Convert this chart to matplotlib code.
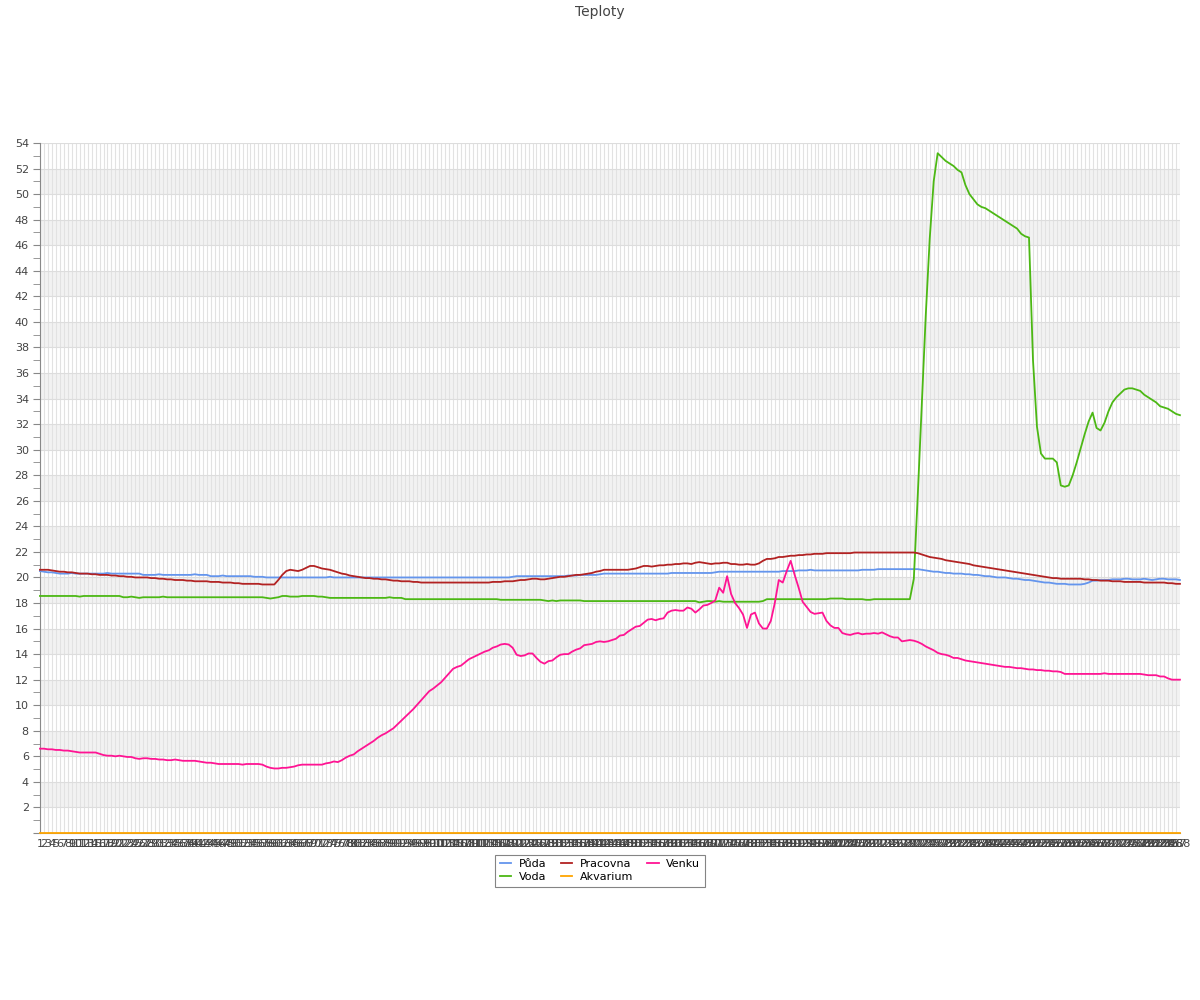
import matplotlib
matplotlib.use('Agg')
import matplotlib.pyplot as plt
from matplotlib.ticker import MultipleLocator, FuncFormatter

# hodnoty, jeden bod na zaznam (1..288)
puda = [20.5, 20.45, 20.4, 20.4, 20.35,
	20.3, 20.3, 20.3, 20.35, 20.3, 20.3, 20.3, 20.3, 20.3, 20.3, 20.3, 20.3, 20.35, 20.3, 20.3, 20.3, 20.3, 20.3, 20.3, 20.3, 20.3,
	20.2, 20.2, 20.2, 20.2, 20.25, 20.2, 20.2, 20.2, 20.2, 20.2, 20.2, 20.2, 20.2, 20.25, 20.2, 20.2, 20.2,
	20.1, 20.1, 20.1, 20.15, 20.1, 20.1, 20.1, 20.1, 20.1, 20.1, 20.1, 20.05, 20.05, 20.05,
	20.0, 20.0, 20.0, 20.0, 20.0, 20.0, 20.0, 20.0, 20.0, 20.0, 20.0, 20.0, 20.0, 20.0, 20.0, 20.0, 20.05, 20.0, 20.0, 20.0,
	20.0, 20.0, 20.0, 20.0, 20.0, 20.0, 20.0, 20.0, 20.0, 20.0, 20.0, 20.0, 20.0, 20.0, 20.0, 20.0, 20.0, 20.0, 20.0, 20.0,
	20.0, 20.0, 20.0, 20.0, 20.0, 20.0, 20.0, 20.0, 20.0, 20.0, 20.0, 20.0, 20.0, 20.0, 20.0, 20.0, 20.0, 20.0, 20.0, 20.0,
	20.0, 20.0,
	20.05, 20.1, 20.1, 20.1, 20.1, 20.1, 20.1, 20.1, 20.1, 20.1, 20.1, 20.1, 20.1, 20.1, 20.15, 20.15, 20.15,
	20.2, 20.2, 20.2, 20.2, 20.2, 20.25,
	20.3, 20.3, 20.3, 20.3, 20.3, 20.3, 20.3, 20.3, 20.3, 20.3, 20.3, 20.3, 20.3, 20.3, 20.3, 20.3, 20.3,
	20.35, 20.35, 20.35, 20.35, 20.35, 20.35, 20.35, 20.35, 20.35, 20.35, 20.35, 20.4,
	20.45, 20.45, 20.45, 20.45, 20.45, 20.45, 20.45, 20.45, 20.45, 20.45, 20.45, 20.45, 20.45, 20.45, 20.45, 20.45, 20.5, 20.5, 20.5, 20.5,
	20.55, 20.55, 20.55, 20.6, 20.55, 20.55, 20.55, 20.55, 20.55, 20.55, 20.55, 20.55, 20.55, 20.55, 20.55, 20.55, 20.6, 20.6, 20.6, 20.6,
	20.65, 20.65, 20.65, 20.65, 20.65, 20.65, 20.65, 20.65, 20.65, 20.65, 20.65,
	20.6, 20.55, 20.5, 20.45, 20.45, 20.4, 20.35, 20.35, 20.3, 20.3, 20.3, 20.25, 20.25, 20.2, 20.2, 20.15, 20.1, 20.1, 20.05, 20.0,
	20.0, 20.0, 19.95, 19.9, 19.9, 19.85, 19.8, 19.8, 19.75, 19.7, 19.65, 19.6, 19.6, 19.55, 19.5, 19.5, 19.5, 19.45, 19.45, 19.45,
	19.45, 19.5, 19.6, 19.75, 19.75, 19.8, 19.8, 19.8, 19.85, 19.85, 19.85, 19.9, 19.9, 19.85, 19.85, 19.85, 19.9, 19.85, 19.8, 19.85,
	19.9, 19.9, 19.85, 19.85, 19.85, 19.8]

voda = [18.55, 18.55, 18.55, 18.55, 18.55, 18.55, 18.55, 18.55, 18.55, 18.55, 18.5, 18.55, 18.55, 18.55, 18.55, 18.55, 18.55, 18.55, 18.55, 18.55, 18.55,
	18.45, 18.45, 18.5, 18.45, 18.4, 18.45, 18.45, 18.45, 18.45, 18.45, 18.5, 18.45, 18.45, 18.45, 18.45, 18.45, 18.45, 18.45, 18.45,
	18.45, 18.45, 18.45, 18.45, 18.45, 18.45, 18.45, 18.45, 18.45, 18.45, 18.45, 18.45, 18.45, 18.45, 18.45, 18.45, 18.45, 18.4,
	18.35, 18.4, 18.45, 18.55, 18.55, 18.5, 18.5, 18.5, 18.55, 18.55, 18.55, 18.55, 18.5, 18.5, 18.45,
	18.4, 18.4, 18.4, 18.4, 18.4, 18.4, 18.4, 18.4, 18.4, 18.4, 18.4, 18.4, 18.4, 18.4, 18.4, 18.45, 18.4, 18.4, 18.4,
	18.3, 18.3, 18.3, 18.3, 18.3, 18.3, 18.3, 18.3, 18.3, 18.3, 18.3, 18.3, 18.3, 18.3, 18.3, 18.3, 18.3, 18.3, 18.3, 18.3, 18.3, 18.3, 18.3, 18.3,
	18.25, 18.25, 18.25, 18.25, 18.25, 18.25, 18.25, 18.25, 18.25, 18.25, 18.25, 18.2, 18.15, 18.2, 18.15, 18.2, 18.2, 18.2, 18.2, 18.2, 18.2,
	18.15, 18.15, 18.15, 18.15, 18.15, 18.15, 18.15, 18.15, 18.15, 18.15, 18.15, 18.15, 18.15, 18.15, 18.15, 18.15, 18.15, 18.15, 18.15, 18.15,
	18.15, 18.15, 18.15, 18.15, 18.15, 18.15, 18.15, 18.15, 18.15,
	18.05, 18.1, 18.15, 18.15, 18.1, 18.15, 18.1, 18.1, 18.1, 18.1, 18.1, 18.1, 18.1, 18.1, 18.1, 18.1, 18.15,
	18.3, 18.3, 18.3, 18.3, 18.3, 18.3, 18.3, 18.3, 18.3, 18.3, 18.3, 18.3, 18.3, 18.3, 18.3, 18.3, 18.35, 18.35, 18.35, 18.35,
	18.3, 18.3, 18.3, 18.3, 18.3, 18.25, 18.25, 18.3, 18.3, 18.3, 18.3, 18.3, 18.3, 18.3, 18.3, 18.3, 18.3,
	19.9, 26.5, 33.5, 40.5, 46.5, 51.0, 53.2, 52.9, 52.6, 52.4, 52.2, 51.9, 51.7, 50.7, 50.0, 49.6, 49.2, 49.0, 48.9, 48.7,
	48.5, 48.3, 48.1, 47.9, 47.7, 47.5, 47.3, 46.9, 46.7, 46.6, 37.0, 31.8, 29.7, 29.3, 29.3, 29.3, 29.0, 27.2, 27.1, 27.2,
	28.0, 29.0, 30.1, 31.2, 32.2, 32.9, 31.7, 31.5, 32.1, 33.0, 33.7, 34.1, 34.4, 34.7, 34.8, 34.8, 34.7, 34.6, 34.3, 34.1,
	33.9, 33.7, 33.4, 33.3, 33.2, 33.0, 32.8, 32.7]

pracovna = [20.6, 20.6, 20.6, 20.55, 20.5, 20.45, 20.45, 20.4, 20.4, 20.35, 20.3, 20.3, 20.3, 20.25, 20.25, 20.2, 20.2, 20.2, 20.15, 20.15,
	20.1, 20.1, 20.05, 20.05, 20.0, 20.0, 20.0, 20.0, 19.95, 19.95, 19.9, 19.9, 19.85, 19.85, 19.8, 19.8, 19.8, 19.75, 19.75, 19.7,
	19.7, 19.7, 19.7, 19.65, 19.65, 19.65, 19.6, 19.6, 19.6, 19.55, 19.55, 19.5, 19.5, 19.5, 19.5, 19.5, 19.45, 19.45, 19.45,
	19.45, 19.8, 20.2, 20.5, 20.6, 20.55, 20.5, 20.6, 20.75, 20.9, 20.9, 20.8, 20.7, 20.65, 20.6, 20.5, 20.4, 20.3, 20.25, 20.15,
	20.1, 20.05, 20.0,
	19.95, 19.95, 19.9, 19.9, 19.85, 19.85, 19.8, 19.75,
	19.75, 19.7, 19.7, 19.7, 19.65, 19.65, 19.6, 19.6,
	19.6, 19.6, 19.6, 19.6, 19.6, 19.6, 19.6, 19.6, 19.6, 19.6, 19.6, 19.6, 19.6,
	19.6, 19.6, 19.6, 19.65, 19.65, 19.65, 19.7, 19.7,
	19.7, 19.75, 19.8, 19.8, 19.85, 19.9, 19.9, 19.85, 19.85, 19.9, 19.95, 20.0, 20.05,
	20.05, 20.1, 20.15, 20.2, 20.2, 20.25, 20.3, 20.35, 20.45, 20.5, 20.6,
	20.6, 20.6, 20.6, 20.6, 20.6, 20.6, 20.65,
	20.7, 20.8, 20.9, 20.9, 20.85, 20.9, 20.95, 20.95, 21.0,
	21.0, 21.05, 21.05, 21.1, 21.1, 21.05, 21.15, 21.2,
	21.15, 21.1, 21.05, 21.1, 21.1, 21.15, 21.15, 21.05, 21.05, 21.0, 21.0, 21.05, 21.0, 21.0,
	21.1, 21.3, 21.45, 21.45, 21.5, 21.6, 21.6, 21.65, 21.7, 21.7, 21.75, 21.75, 21.8, 21.8, 21.85, 21.85, 21.85, 21.9, 21.9,
	21.9, 21.9, 21.9, 21.9, 21.9, 21.95, 21.95, 21.95, 21.95, 21.95, 21.95, 21.95, 21.95, 21.95, 21.95, 21.95, 21.95, 21.95, 21.95, 21.95, 21.95,
	21.9, 21.8, 21.7, 21.6, 21.55, 21.5, 21.45, 21.35, 21.3, 21.25, 21.2, 21.15, 21.1, 21.05, 20.95, 20.9, 20.85, 20.8, 20.75, 20.7,
	20.65, 20.6, 20.55, 20.5, 20.45, 20.4, 20.35, 20.3, 20.25, 20.2, 20.15, 20.1, 20.05, 20.0, 19.95, 19.95, 19.9, 19.9, 19.9, 19.9,
	19.9, 19.9, 19.85, 19.85, 19.8, 19.8, 19.75, 19.75, 19.75, 19.7, 19.7, 19.7, 19.65, 19.65, 19.65, 19.65, 19.65, 19.6, 19.6, 19.6,
	19.6, 19.6, 19.6, 19.55, 19.55, 19.5, 19.5]

akvarium = [0, 0, 0, 0, 0, 0, 0, 0, 0, 0, 0, 0, 0, 0, 0, 0, 0, 0, 0, 0, 0, 0, 0, 0,
	0, 0, 0, 0, 0, 0, 0, 0, 0, 0, 0, 0, 0, 0, 0, 0, 0, 0, 0, 0, 0, 0, 0, 0,
	0, 0, 0, 0, 0, 0, 0, 0, 0, 0, 0, 0, 0, 0, 0, 0, 0, 0, 0, 0, 0, 0, 0, 0,
	0, 0, 0, 0, 0, 0, 0, 0, 0, 0, 0, 0, 0, 0, 0, 0, 0, 0, 0, 0, 0, 0, 0, 0,
	0, 0, 0, 0, 0, 0, 0, 0, 0, 0, 0, 0, 0, 0, 0, 0, 0, 0, 0, 0, 0, 0, 0, 0,
	0, 0, 0, 0, 0, 0, 0, 0, 0, 0, 0, 0, 0, 0, 0, 0, 0, 0, 0, 0, 0, 0, 0, 0,
	0, 0, 0, 0, 0, 0, 0, 0, 0, 0, 0, 0, 0, 0, 0, 0, 0, 0, 0, 0, 0, 0, 0, 0,
	0, 0, 0, 0, 0, 0, 0, 0, 0, 0, 0, 0, 0, 0, 0, 0, 0, 0, 0, 0, 0, 0, 0, 0,
	0, 0, 0, 0, 0, 0, 0, 0, 0, 0, 0, 0, 0, 0, 0, 0, 0, 0, 0, 0, 0, 0, 0, 0,
	0, 0, 0, 0, 0, 0, 0, 0, 0, 0, 0, 0, 0, 0, 0, 0, 0, 0, 0, 0, 0, 0, 0, 0,
	0, 0, 0, 0, 0, 0, 0, 0, 0, 0, 0, 0, 0, 0, 0, 0, 0, 0, 0, 0, 0, 0, 0, 0,
	0, 0, 0, 0, 0, 0, 0, 0, 0, 0, 0, 0, 0, 0, 0, 0, 0, 0, 0, 0, 0, 0, 0, 0]

venku = [6.6, 6.6, 6.55, 6.55, 6.5, 6.5, 6.45, 6.45, 6.4, 6.35, 6.3, 6.3, 6.3, 6.3, 6.3, 6.2, 6.1, 6.05, 6.05, 6.0,
	6.05, 6.0, 5.95, 5.95, 5.85, 5.8, 5.85, 5.85, 5.8, 5.8, 5.75, 5.75, 5.7, 5.7, 5.75, 5.7, 5.65, 5.65, 5.65, 5.65,
	5.6, 5.55, 5.5, 5.5, 5.45, 5.4, 5.4, 5.4, 5.4, 5.4, 5.4, 5.35, 5.4, 5.4, 5.4, 5.4, 5.35, 5.2, 5.1, 5.05,
	5.05, 5.1, 5.1, 5.15, 5.2, 5.3, 5.35, 5.35, 5.35, 5.35, 5.35, 5.35, 5.45, 5.5, 5.6, 5.55, 5.7, 5.9, 6.05, 6.15,
	6.4, 6.6, 6.8, 7.0, 7.2, 7.45, 7.65, 7.8, 8.0, 8.2, 8.5, 8.8, 9.1, 9.4, 9.7, 10.05, 10.4, 10.75, 11.1, 11.3,
	11.55, 11.8, 12.15, 12.5, 12.85, 13.0, 13.1, 13.35, 13.6, 13.75, 13.9, 14.05, 14.2, 14.3, 14.5, 14.6, 14.75, 14.8, 14.75, 14.5,
	13.95, 13.85, 13.9, 14.05, 14.05, 13.7, 13.4, 13.25, 13.45, 13.5, 13.75, 13.95, 14.0, 14.0, 14.2, 14.35, 14.45, 14.7, 14.75, 14.8,
	14.95, 15.0, 14.95, 15.0, 15.1, 15.2, 15.45, 15.5, 15.75, 15.95, 16.15, 16.2, 16.45, 16.7, 16.75, 16.65, 16.75, 16.8, 17.25, 17.4,
	17.45, 17.4, 17.4, 17.65, 17.55, 17.25, 17.5, 17.8, 17.85, 18.0, 18.2, 19.2, 18.8, 20.1, 18.7, 18.0, 17.6, 17.1, 16.05, 17.1,
	17.25, 16.4, 16.0, 16.0, 16.6, 18.0, 19.8, 19.6, 20.5, 21.3, 20.2, 19.2, 18.1, 17.7, 17.3, 17.15, 17.2, 17.25, 16.6, 16.25,
	16.05, 16.05, 15.65, 15.55, 15.5, 15.6, 15.65, 15.55, 15.6, 15.6, 15.65, 15.6, 15.7, 15.55, 15.4, 15.3, 15.3, 15.0, 15.05, 15.1,
	15.05, 14.95, 14.8, 14.6, 14.45, 14.3, 14.1, 14.0, 13.95, 13.85, 13.7, 13.7, 13.6, 13.5, 13.45, 13.4, 13.35, 13.3, 13.25, 13.2,
	13.15, 13.1, 13.05, 13.0, 13.0, 12.95, 12.9, 12.9, 12.85, 12.8, 12.8, 12.75, 12.75, 12.7, 12.7, 12.65, 12.65, 12.6, 12.45, 12.45,
	12.45, 12.45, 12.45, 12.45, 12.45, 12.45, 12.45, 12.45, 12.5, 12.45, 12.45, 12.45, 12.45, 12.45, 12.45, 12.45, 12.45, 12.45, 12.4,
	12.35, 12.35, 12.35, 12.25, 12.25, 12.1, 12.0, 12.0, 12.0]

labels = [str(i) for i in range(1, len(puda) + 1)]
x = list(range(len(labels)))

fig = plt.figure(figsize=(12, 10), dpi=100)
ax = fig.add_axes([0.0333, 0.167, 0.95, 0.69])

# sede pruhy v pozadi
for lo in range(2, 54, 4):
	ax.axhspan(lo, lo + 2, color='#f2f2f2', zorder=0, lw=0)

series = [('Půda', puda, '#6495ED'), ('Voda', voda, '#4cb814'), ('Pracovna', pracovna, '#b22222'),
	('Akvarium', akvarium, '#ffa500'), ('Venku', venku, '#ff1493')]
for name, vals, col in series:
	ax.plot(range(len(vals)), vals, color=col, lw=1.3, label=name, zorder=3, clip_on=False)

ax.set_xlim(0, len(labels) - 1)
ax.set_ylim(0, 54)
ax.set_xticks(x)
ax.set_xticklabels(labels, fontsize=8, color='#444444')
ax.tick_params(axis='x', length=0, pad=4)

ax.yaxis.set_major_locator(MultipleLocator(2))
ax.yaxis.set_minor_locator(MultipleLocator(1))
ax.yaxis.set_major_formatter(FuncFormatter(lambda v, p: '' if v == 0 else '%d' % v))
ax.tick_params(axis='y', which='both', length=5, color='#888888', labelsize=8, labelcolor='#444444', pad=3)

ax.grid(axis='x', color='#e2e2e2', lw=0.8, zorder=1)
ax.grid(axis='y', which='major', color='#dddddd', lw=0.8, zorder=1)
ax.set_axisbelow(True)

for s in ['top', 'right']:
	ax.spines[s].set_visible(False)
ax.spines['left'].set_color('#888888')
ax.spines['bottom'].set_color('#888888')

fig.suptitle('Teploty', y=0.995, fontsize=10, color='#444444')

leg = ax.legend(loc='upper center', bbox_to_anchor=(0.5, 0.151), bbox_transform=fig.transFigure,
	ncol=3, fontsize=8, frameon=True, fancybox=False, edgecolor='#666666', handlelength=1.0,
	columnspacing=1.3, borderpad=0.4, labelspacing=0.3, handletextpad=0.7)
leg.get_frame().set_linewidth(0.8)

fig.savefig('out.png', dpi=100)
